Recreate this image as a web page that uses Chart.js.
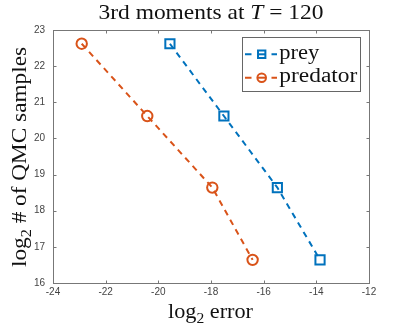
<!DOCTYPE html>
<html><head><meta charset="utf-8">
<script src="https://cdn.jsdelivr.net/npm/chart.js@4/dist/chart.umd.min.js"></script>
<style>html,body{margin:0;padding:0;background:#fff}canvas{display:block}</style>
</head><body>
<canvas id="c" width="407" height="326"></canvas>
<script>
// ---- data ----
const seriesNames = ['prey', 'predator'];
const preyLog2Error = [-19.56, -17.51, -15.48, -13.86];
const predatorLog2Error = [-22.91, -20.42, -17.95, -16.42];
const log2Samples = [22.62, 20.62, 18.64, 16.64];
const xTickValues = [-24, -22, -20, -18, -16, -14, -12];
const yTickValues = [16, 17, 18, 19, 20, 21, 22, 23];
const titleText = ['3rd moments at ', 'T', ' = ', '120'];
const xLabelText = ['log', '2', ' error'];
const yLabelText = ['log', '2', ' # of QMC samples'];

const COLORS = ['#0072BD', '#D95319'];
const STYLES = ['rect', 'circle'];
const SERIF = '"Liberation Serif","Times New Roman",serif';
const SANS = '"Liberation Sans",Arial,Helvetica,sans-serif';

function drawFit(ctx, parts, x, y, target, align) {
  let w = 0;
  parts.forEach(p => { ctx.font = p.font; p.w = ctx.measureText(p.text).width; w += p.w; });
  const s = target ? target / w : 1;
  ctx.save();
  ctx.translate(x, y);
  ctx.scale(s, 1);
  let cx = align === 'center' ? -w / 2 : 0;
  ctx.textAlign = 'left';
  ctx.textBaseline = 'alphabetic';
  parts.forEach(p => { ctx.font = p.font; ctx.fillStyle = '#111'; ctx.fillText(p.text, cx, p.dy || 0); cx += p.w; });
  ctx.restore();
}

function marker(ctx, style, x, y, r, color) {
  ctx.save();
  ctx.strokeStyle = color; ctx.lineWidth = 2; ctx.setLineDash([]);
  ctx.beginPath();
  if (style === 'rect') { const h = r * Math.SQRT1_2; ctx.rect(x - h, y - h, 2 * h, 2 * h); }
  else { ctx.arc(x, y, r, 0, Math.PI * 2); }
  ctx.stroke();
  ctx.restore();
}

const frame = {
  id: 'frame',
  beforeDatasetsDraw(chart) {
    const { ctx, chartArea: a, scales: { x, y } } = chart;
    ctx.save();
    ctx.strokeStyle = '#777'; ctx.lineWidth = 1;
    const L = Math.round(a.left) + 0.5, R = Math.round(a.right) + 0.5;
    const T = Math.round(a.top) + 0.5, B = Math.round(a.bottom) + 0.5;
    ctx.strokeRect(L, T, R - L, B - T);
    ctx.beginPath();
    xTickValues.forEach(v => {
      const px = Math.round(x.getPixelForValue(v)) + 0.5;
      ctx.moveTo(px, B); ctx.lineTo(px, B - 3);
      ctx.moveTo(px, T); ctx.lineTo(px, T + 3);
    });
    yTickValues.forEach(v => {
      const py = Math.round(y.getPixelForValue(v)) + 0.5;
      ctx.moveTo(L, py); ctx.lineTo(L + 3, py);
      ctx.moveTo(R, py); ctx.lineTo(R - 3, py);
    });
    ctx.stroke();
    ctx.restore();
  },
  afterDraw(chart) {
    const ctx = chart.ctx;
    drawFit(ctx, [
      { text: titleText[0], font: '21px ' + SERIF },
      { text: titleText[1], font: 'italic 21px ' + SERIF },
      { text: titleText[2], font: '21px ' + SERIF },
      { text: titleText[3], font: '21px ' + SERIF }
    ], 211, 19, 225, 'center');
    drawFit(ctx, [
      { text: xLabelText[0], font: '20px ' + SERIF },
      { text: xLabelText[1], font: '14px ' + SERIF, dy: 5 },
      { text: xLabelText[2], font: '20px ' + SERIF }
    ], 210.5, 318, 85, 'center');
    ctx.save();
    ctx.translate(26, 157);
    ctx.rotate(-Math.PI / 2);
    drawFit(ctx, [
      { text: yLabelText[0], font: '20px ' + SERIF },
      { text: yLabelText[1], font: '14px ' + SERIF, dy: 5 },
      { text: yLabelText[2], font: '20px ' + SERIF }
    ], 0, 0, 220, 'center');
    ctx.restore();
    // legend
    ctx.save();
    ctx.fillStyle = '#fff';
    ctx.fillRect(243, 38, 117, 53);
    ctx.strokeStyle = '#666'; ctx.lineWidth = 1;
    ctx.strokeRect(242.5, 37.5, 118, 54);
    const rowsY = [54.3, 77.7];
    const textY = [58.5, 82];
    const widths = [40, 78];
    chart.data.datasets.forEach((ds, i) => {
      const cy = rowsY[i];
      ctx.strokeStyle = COLORS[i]; ctx.lineWidth = 2; ctx.setLineDash([]);
      ctx.beginPath();
      ctx.moveTo(245, cy); ctx.lineTo(251.5, cy);
      ctx.moveTo(271.5, cy); ctx.lineTo(277, cy);
      ctx.stroke();
      ctx.beginPath(); ctx.moveTo(258, cy); ctx.lineTo(265, cy); ctx.stroke();
      marker(ctx, STYLES[i], 261.7, cy, STYLES[i] === 'rect' ? 5.2 : 4.3, COLORS[i]);
      drawFit(ctx, [{ text: ds.label, font: '20px ' + SERIF }], 279.3, textY[i], widths[i], 'left');
    });
    ctx.restore();
  }
};

const mk = (xs) => xs.map((v, i) => ({ x: v, y: log2Samples[i] }));

new Chart(document.getElementById('c'), {
  type: 'scatter',
  data: {
    datasets: [
      { label: seriesNames[0], data: mk(preyLog2Error), showLine: true,
        borderColor: COLORS[0], backgroundColor: 'rgba(0,0,0,0)', borderWidth: 2, borderDash: [6, 5],
        pointStyle: 'rect', pointRadius: 6.5, pointBorderWidth: 2,
        pointBorderColor: COLORS[0], pointBackgroundColor: 'rgba(0,0,0,0)' },
      { label: seriesNames[1], data: mk(predatorLog2Error), showLine: true,
        borderColor: COLORS[1], backgroundColor: 'rgba(0,0,0,0)', borderWidth: 2, borderDash: [6, 5],
        pointStyle: 'circle', pointRadius: 5.2, pointBorderWidth: 2,
        pointBorderColor: COLORS[1], pointBackgroundColor: 'rgba(0,0,0,0)' }
    ]
  },
  options: {
    responsive: false, animation: false, devicePixelRatio: 1,
    layout: { padding: { top: 30, right: 38, left: 0, bottom: 0 } },
    plugins: { legend: { display: false }, title: { display: false }, tooltip: { enabled: false } },
    scales: {
      x: {
        type: 'linear', min: -24, max: -12,
        afterBuildTicks: s => { s.ticks = xTickValues.map(v => ({ value: v })); },
        afterFit: s => { s.height = 43; },
        ticks: { font: { family: SANS, size: 10 }, color: '#444', padding: 3, maxRotation: 0, autoSkip: false },
        grid: { display: false, drawTicks: false }, border: { display: false }
      },
      y: {
        type: 'linear', min: 16, max: 23,
        afterBuildTicks: s => { s.ticks = yTickValues.map(v => ({ value: v })); },
        afterFit: s => { s.width = 53; },
        ticks: { font: { family: SANS, size: 10 }, color: '#444', padding: 8, autoSkip: false },
        grid: { display: false, drawTicks: false }, border: { display: false }
      }
    }
  },
  plugins: [frame]
});
</script>
</body></html>
